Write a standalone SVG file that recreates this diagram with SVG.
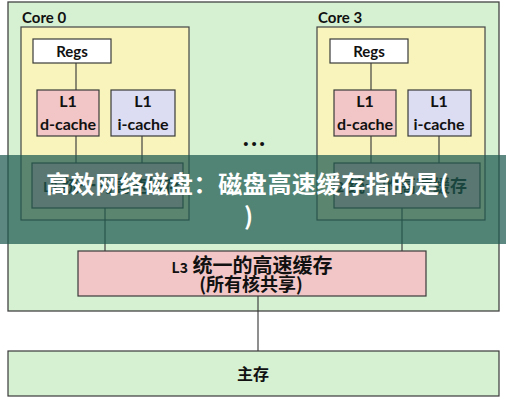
<svg xmlns="http://www.w3.org/2000/svg" width="506" height="400" viewBox="0 0 506 400">
<style>
.box{stroke:#3a3a3a;stroke-width:1.2}
.outer{fill:#d6f0d2;stroke:#444;stroke-width:1.3}
.core{fill:#f8f4bc;stroke:#444;stroke-width:1.2}
.white{fill:#ffffff}
.pink{fill:#f2c6c6}
.lav{fill:#dcdcf2}
.lbl{font-family:Lato,"Liberation Sans","Noto Sans CJK SC",sans-serif;font-weight:bold;fill:#111;text-anchor:middle}
.cjk{font-family:"Noto Sans CJK SC","Liberation Sans",sans-serif;font-weight:bold;fill:#111;text-anchor:middle}
.conn line{stroke:#333;stroke-width:1.1}
.banner{font-family:"Noto Sans CJK SC","Liberation Sans",sans-serif;font-weight:bold;fill:#ffffff}
</style>
<rect width="506" height="400" fill="#ffffff"/>
<g id="chip">
<rect class="outer" x="8" y="2" width="491" height="309"/>
</g>
<g id="core0">
<rect class="core" x="21" y="27" width="168" height="193"/>
<text class="lbl" x="22" y="23" font-size="15" style="text-anchor:start">Core 0</text>
</g>
<g id="core3">
<rect class="core" x="317" y="27" width="168" height="193"/>
<text class="lbl" x="318" y="23" font-size="15" style="text-anchor:start">Core 3</text>
</g>
<g class="conn" id="connectors">
<line x1="76" y1="63" x2="76" y2="90"/>
<line x1="76" y1="136" x2="76" y2="163"/>
<line x1="142" y1="136" x2="142" y2="163"/>
<line x1="371" y1="63" x2="371" y2="90"/>
<line x1="371" y1="136" x2="371" y2="163"/>
<line x1="439" y1="136" x2="439" y2="163"/>
<line x1="105" y1="208" x2="105" y2="251"/>
<line x1="402" y1="208" x2="402" y2="251"/>
<line x1="258" y1="296" x2="258" y2="351"/>
</g>
<g id="regs0">
<rect class="box white" x="33" y="39" width="78" height="24"/>
<text class="lbl" x="72" y="57" font-size="15">Regs</text>
</g>
<g id="l1d0">
<rect class="box pink" x="37" y="90" width="62" height="46"/>
<text class="lbl" x="68" y="107" font-size="16">L1</text>
<text class="lbl" x="68" y="130" font-size="16">d-cache</text>
</g>
<g id="l1i0">
<rect class="box lav" x="111" y="90" width="64" height="46"/>
<text class="lbl" x="143" y="107" font-size="16">L1</text>
<text class="lbl" x="143" y="130" font-size="16">i-cache</text>
</g>
<g id="l2_0">
<rect class="box pink" x="32" y="163" width="151" height="45"/>
<text class="cjk" x="43" y="192" font-size="17" style="text-anchor:start"><tspan font-size="13">L2</tspan> 统一的高速缓存</text>
</g>
<g id="regs3">
<rect class="box white" x="330" y="39" width="78" height="24"/>
<text class="lbl" x="369" y="57" font-size="15">Regs</text>
</g>
<g id="l1d3">
<rect class="box pink" x="334" y="90" width="62" height="46"/>
<text class="lbl" x="365" y="107" font-size="16">L1</text>
<text class="lbl" x="365" y="130" font-size="16">d-cache</text>
</g>
<g id="l1i3">
<rect class="box lav" x="408" y="90" width="63" height="46"/>
<text class="lbl" x="439" y="107" font-size="16">L1</text>
<text class="lbl" x="439" y="130" font-size="16">i-cache</text>
</g>
<g id="l2_3">
<rect class="box pink" x="334" y="163" width="146" height="45"/>
<text class="cjk" x="467" y="192" font-size="17" style="text-anchor:end"><tspan font-size="13">L2</tspan> 统一的高速缓存</text>
</g>
<g id="dots">
<text class="lbl" x="255" y="146" font-size="26" letter-spacing="2">...</text>
</g>
<g id="l3">
<rect class="box pink" x="78" y="251" width="348" height="45"/>
<text class="cjk" x="252" y="273" font-size="20"><tspan font-size="14">L3</tspan> 统一的高速缓存</text>
<text class="cjk" x="251" y="291" font-size="18">(所有核共享)</text>
</g>
<g id="mainmem">
<rect class="box" fill="#d6f0d2" x="8" y="351" width="491" height="45"/>
<text class="cjk" x="253" y="380" font-size="16">主存</text>
</g>
<g id="banner">
<rect x="0" y="155" width="506" height="89" fill="rgb(30,90,80)" fill-opacity="0.72"/>
<text class="banner" x="46" y="193" font-size="24" letter-spacing="0.6">高效网络磁盘：磁盘高速缓存指的是(</text>
<text class="banner" x="244" y="225" font-size="24">)</text>
</g>
</svg>
